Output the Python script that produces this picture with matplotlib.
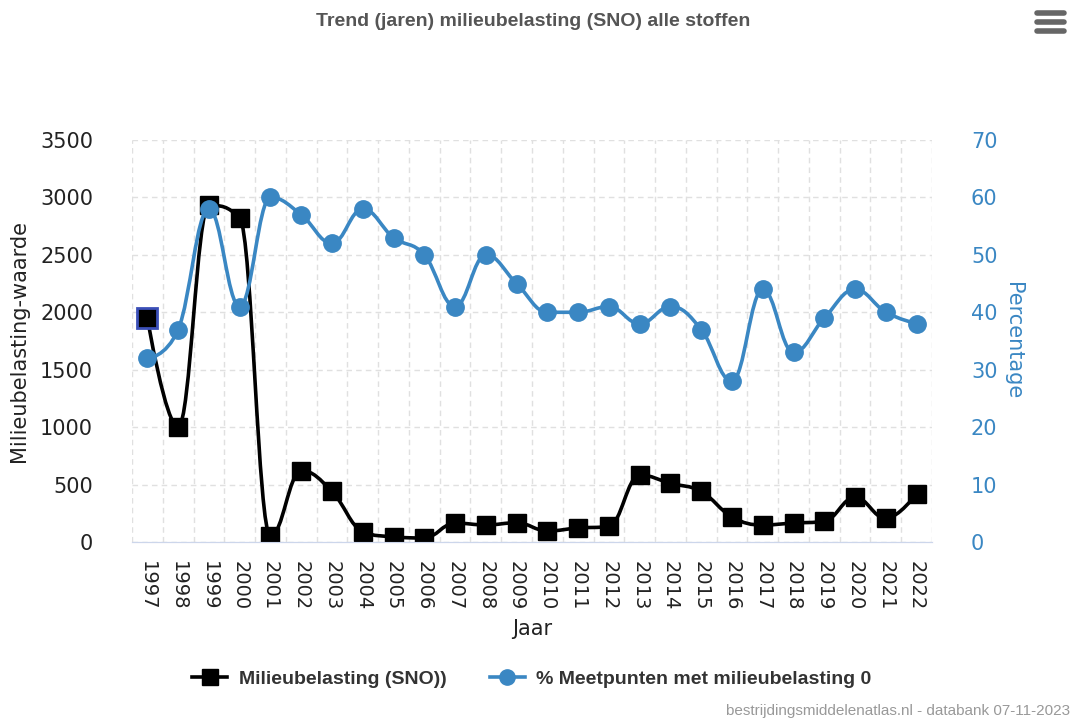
import numpy as np
import matplotlib.pyplot as plt
from matplotlib.path import Path
from matplotlib.patches import PathPatch
from matplotlib.lines import Line2D

years = [str(y) for y in range(1997, 2023)]
belasting = [1950, 1000, 2930, 2820, 50, 620, 440, 90, 45, 35, 165, 148, 168,
             96, 122, 135, 583, 510, 440, 218, 148, 165, 180, 390, 205, 420]
pct_nul = [32, 37, 58, 41, 60, 57, 52, 58, 53, 50, 41, 50, 45,
           40, 40, 41, 38, 41, 37, 28, 44, 33, 39, 44, 40, 38]

BLUE = '#3a87c3'
GRID = '#e0e0e0'
NARROW = ['Liberation Sans', 'DejaVu Sans']


def spline_path(xs, ys, smoothing=1.5):
    # highcharts-like spline: bezier control points per point
    denom = smoothing + 1
    n = len(xs)
    verts = [(xs[0], ys[0])]
    codes = [Path.MOVETO]
    left = [None] * n
    right = [None] * n
    for i in range(1, n - 1):
        x, y = xs[i], ys[i]
        px, py = xs[i - 1], ys[i - 1]
        nx, ny = xs[i + 1], ys[i + 1]
        lcx = (smoothing * x + px) / denom
        lcy = (smoothing * y + py) / denom
        rcx = (smoothing * x + nx) / denom
        rcy = (smoothing * y + ny) / denom
        corr = (rcy - lcy) * (rcx - x) / (rcx - lcx) + y - rcy
        lcy += corr
        rcy += corr
        if lcy > py and lcy > y:
            lcy = max(py, y)
            rcy = 2 * y - lcy
        elif lcy < py and lcy < y:
            lcy = min(py, y)
            rcy = 2 * y - lcy
        if rcy > ny and rcy > y:
            rcy = max(ny, y)
            lcy = 2 * y - rcy
        elif rcy < ny and rcy < y:
            rcy = min(ny, y)
            lcy = 2 * y - rcy
        left[i] = (lcx, lcy)
        right[i] = (rcx, rcy)
    for i in range(1, n):
        c1 = right[i - 1] if right[i - 1] else (xs[i - 1], ys[i - 1])
        c2 = left[i] if left[i] else (xs[i], ys[i])
        verts += [c1, c2, (xs[i], ys[i])]
        codes += [Path.CURVE4] * 3
    return Path(verts, codes)


plt.rcParams['font.family'] = ['DejaVu Sans']
fig = plt.figure(figsize=(10.83, 7.22), dpi=100)
ax = fig.add_axes([132 / 1083, 1 - 542 / 722, 800 / 1083, 402 / 722])
ax2 = ax.twinx()

x = np.arange(len(years))

# black series
ax.add_patch(PathPatch(spline_path(x, belasting), fill=False, edgecolor='black',
                       lw=2.6, zorder=3))
ax.plot(x, belasting, ls='none', marker='s', ms=13, color='black', zorder=4)
ax.plot(x[:1], belasting[:1], ls='none', marker='s', ms=14, mfc='black',
        mec='#3b4fb8', mew=2, zorder=10)

# blue series
ax2.add_patch(PathPatch(spline_path(x, pct_nul), fill=False, edgecolor=BLUE,
                        lw=2.6, zorder=3))
ax2.plot(x, pct_nul, ls='none', marker='o', ms=12.5, color=BLUE, zorder=4)

ax.set_xlim(-0.5, len(years) - 0.5)
ax.set_ylim(0, 3500)
ax2.set_ylim(0, 70)
ax.set_yticks(np.arange(0, 3501, 500))
ax2.set_yticks(np.arange(0, 71, 10))
ax.set_xticks(x)
ax.set_xticklabels(years, rotation=-90, fontsize=14, color='#222222')
ax.set_xticks(np.arange(-0.5, len(years)), minor=True)

ax.grid(True, which='minor', axis='x', color=GRID, ls=(0, (4, 3)), lw=1)
ax.grid(True, which='major', axis='y', color=GRID, ls=(0, (4, 3)), lw=1)
ax.set_axisbelow(True)

for a in (ax, ax2):
    for s in ('top', 'left', 'right'):
        a.spines[s].set_visible(False)
    a.spines['bottom'].set_color('#ccd6eb')
ax.tick_params(axis='x', which='both', length=0, pad=14)
ax.tick_params(axis='y', length=0, pad=28, labelsize=15, labelcolor='#222222')
ax2.tick_params(axis='y', length=0, pad=28, labelsize=15, labelcolor=BLUE)

ax.set_xlabel('Jaar', fontsize=15, color='#222222', labelpad=6)
ax.set_ylabel('Milieubelasting-waarde', fontsize=15, color='#222222', labelpad=8)
ax2.set_ylabel('Percentage', fontsize=15, color=BLUE, rotation=-90, labelpad=18)

fig.text(533 / 1083, 1 - 21 / 722, 'Trend (jaren) milieubelasting (SNO) alle stoffen',
         ha='center', va='center', fontsize=14, color='#555555', fontweight='bold',
         family=NARROW)

# hamburger menu icon
for yy in (13, 22, 31):
    fig.add_artist(Line2D([1037 / 1083, 1064 / 1083], [1 - yy / 722] * 2,
                          color='#666666', lw=4, solid_capstyle='round'))

handles = [Line2D([], [], color='black', marker='s', ms=11, lw=2.6),
           Line2D([], [], color=BLUE, marker='o', ms=11, lw=2.6)]
fig.legend(handles, ['Milieubelasting (SNO))', '% Meetpunten met milieubelasting 0'],
           loc='center', bbox_to_anchor=(532 / 1083, 1 - 679 / 722), ncol=2,
           frameon=False, handlelength=1.8, handletextpad=0.6, columnspacing=2.2,
           prop={'family': NARROW, 'weight': 'bold', 'size': 14})
for t in fig.legends[0].get_texts():
    t.set_color('#333333')

fig.text(1070 / 1083, 1 - 711 / 722, 'bestrijdingsmiddelenatlas.nl - databank 07-11-2023',
         ha='right', va='center', fontsize=11, color='#999999', family=NARROW)

fig.savefig('out.png', dpi=100)
